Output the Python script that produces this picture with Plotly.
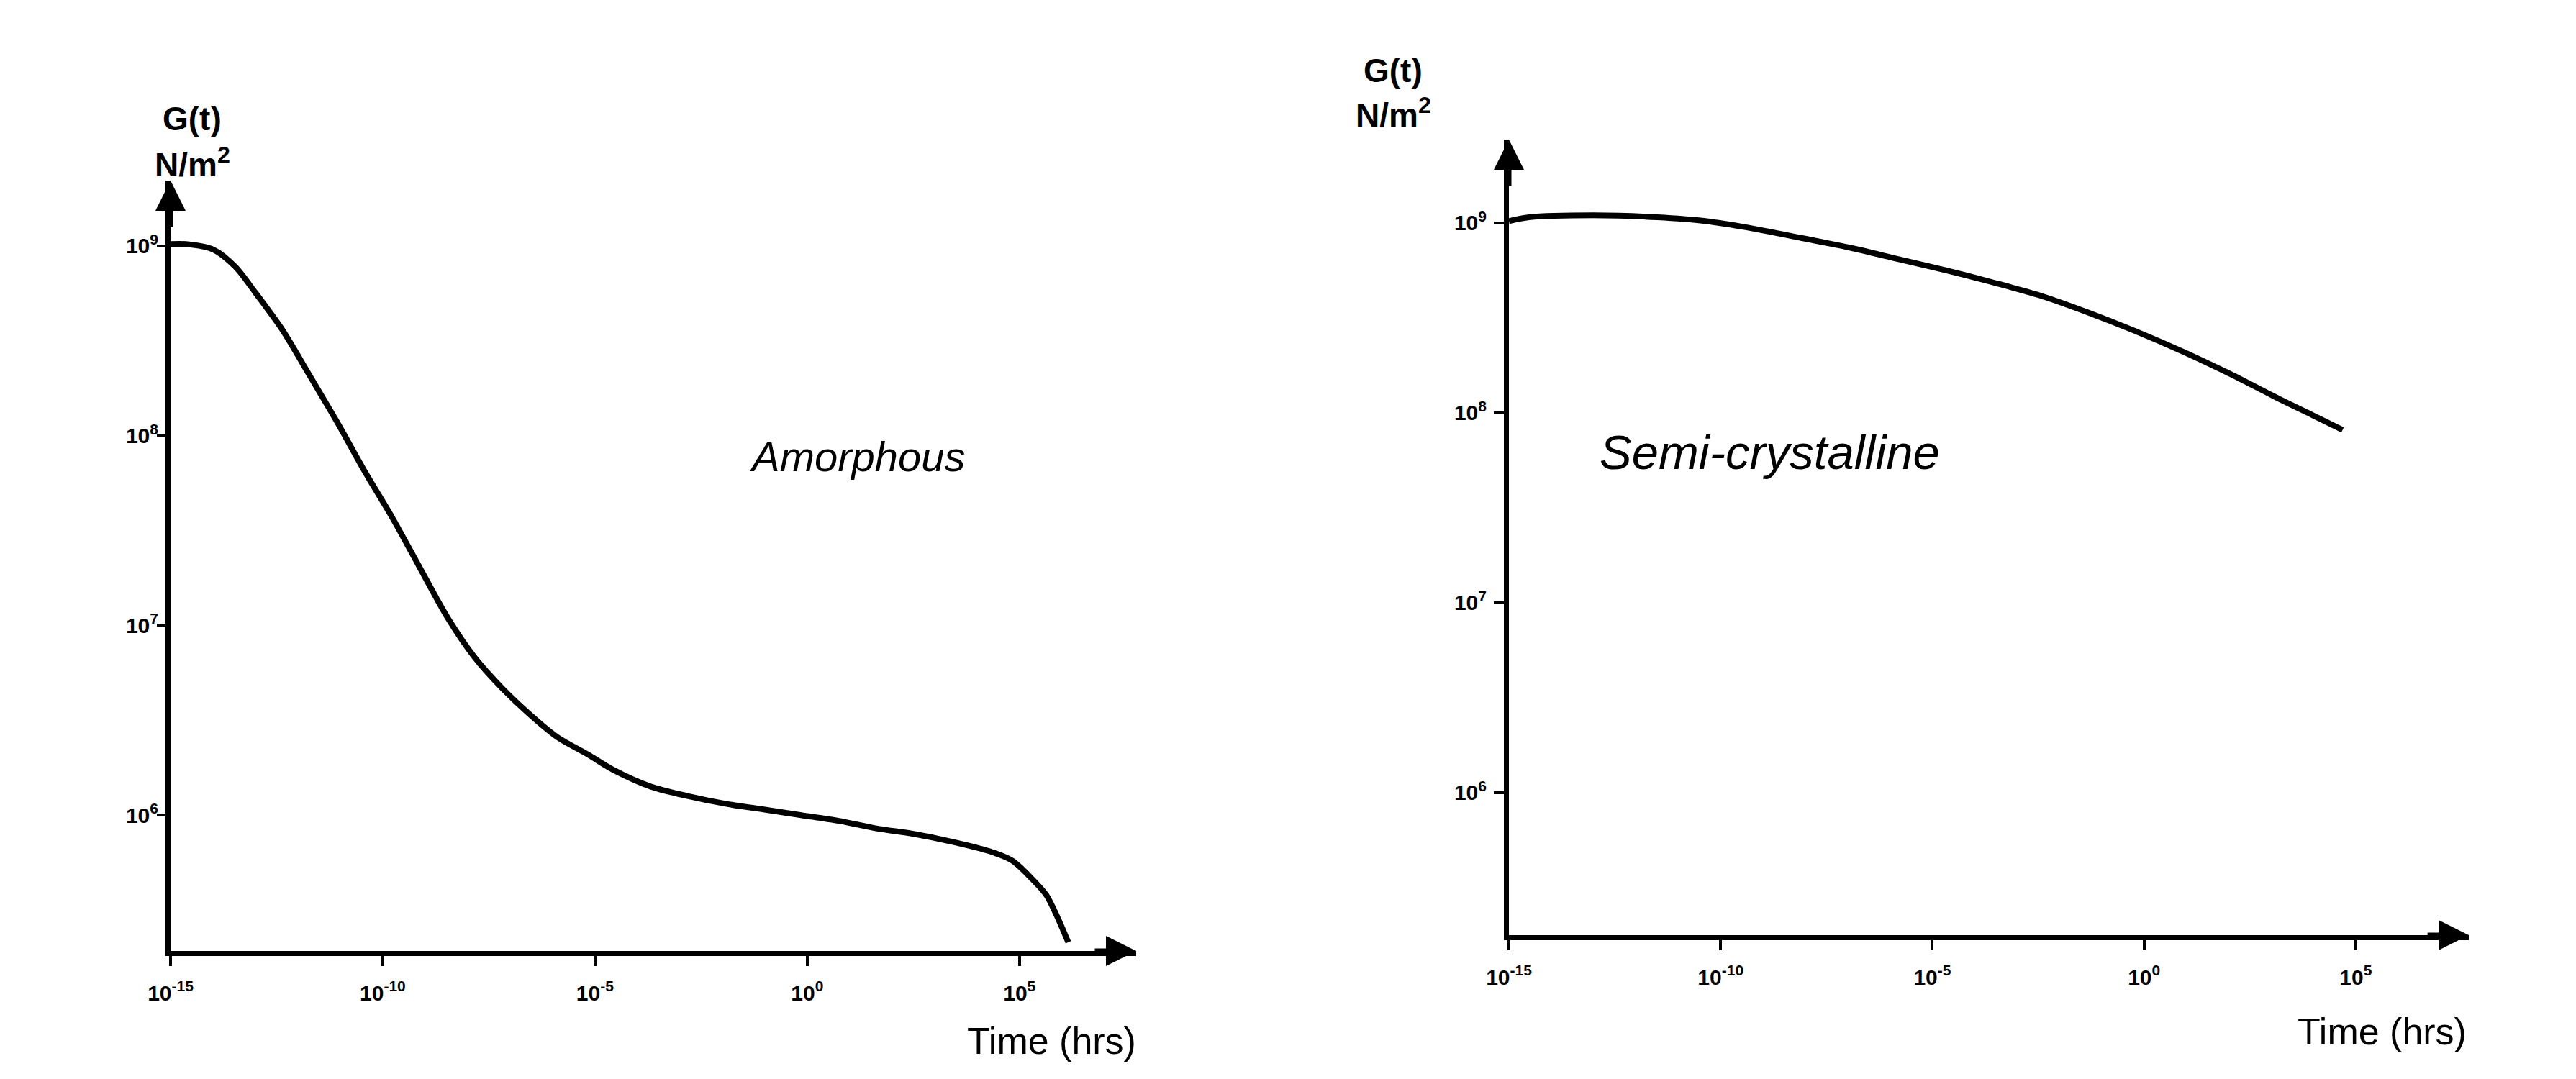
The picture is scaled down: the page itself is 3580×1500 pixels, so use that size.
import plotly.graph_objects as go

# ---- data (log10 values) ----
amorphous_log_time = [-15.0, -14.64, -13.98, -13.47, -13.02, -12.37, -11.73, -11.07, -10.42, -9.78,
                      -9.14, -8.47, -7.83, -7.19, -6.53, -5.88, -5.17, -4.58, -3.68, -2.80,
                      -1.92, -1.03, -0.14, 0.75, 1.63, 2.53, 3.41, 4.29, 4.83, 5.27, 5.63, 5.88, 6.15]
amorphous_log_modulus = [9.01, 9.01, 8.98, 8.89, 8.76, 8.56, 8.32, 8.07, 7.81, 7.57,
                         7.31, 7.04, 6.83, 6.67, 6.53, 6.41, 6.32, 6.24, 6.15, 6.10,
                         6.06, 6.03, 6.00, 5.97, 5.93, 5.90, 5.86, 5.81, 5.76, 5.67, 5.58, 5.47, 5.33]

semicryst_log_time = [-15.0, -14.52, -13.01, -11.50, -10.36, -9.22, -8.08, -6.95, -5.81, -4.67,
                      -3.62, -2.48, -1.34, -0.20, 0.94, 2.08, 3.22, 3.96, 4.69]
semicryst_log_modulus = [9.01, 9.03, 9.04, 9.03, 9.01, 8.97, 8.92, 8.87, 8.81, 8.75,
                         8.69, 8.62, 8.53, 8.43, 8.32, 8.20, 8.07, 7.99, 7.91]

time_tick_exponents = [-15, -10, -5, 0, 5]
modulus_tick_exponents = [6, 7, 8, 9]
panel_labels = ["Amorphous", "Semi-crystalline"]
y_title_lines = ["G(t)", "N/m<sup>2</sup>"]
x_title = "Time (hrs)"

W, H = 3580, 1500
FONT = "Liberation Sans, Arial, Helvetica, sans-serif"
OFF = 8  # page body margin

def px(x):
    return (x - OFF) / W

def py(y):
    return 1 - (y - OFF) / H

fig = go.Figure()
fig.add_trace(go.Scatter(x=[10 ** v for v in amorphous_log_time],
                         y=[10 ** v for v in amorphous_log_modulus],
                         mode="lines", line=dict(color="black", width=8, shape="spline", smoothing=0.8),
                         xaxis="x", yaxis="y", showlegend=False, cliponaxis=False))
fig.add_trace(go.Scatter(x=[10 ** v for v in semicryst_log_time],
                         y=[10 ** v for v in semicryst_log_modulus],
                         mode="lines", line=dict(color="black", width=8, shape="spline", smoothing=0.8),
                         xaxis="x2", yaxis="y2", showlegend=False, cliponaxis=False))

x_ticktext = ["10<sup>%d</sup>" % e for e in time_tick_exponents]
y_ticktext = ["10<sup>%d</sup>" % e for e in modulus_tick_exponents]
x_tickvals = [10.0 ** e for e in time_tick_exponents]
y_tickvals = [10.0 ** e for e in modulus_tick_exponents]

# panel geometry in page pixels (of the reference)
L = dict(x0=237, x1=1579, y0=1322, y1=251, xr=(-15, 7.75), yr=(5.284, 9.345))
R = dict(x0=2097, x1=3431, y0=1300, y1=194, xr=(-15, 7.67), yr=(5.25, 9.439))

tickfont = dict(family=FONT, size=30, color="black", weight="bold")
common_x = dict(type="log", showgrid=False, zeroline=False, showline=True, linecolor="black",
                linewidth=7, ticks="outside", ticklen=14, tickwidth=4, tickcolor="black",
                tickvals=x_tickvals, ticktext=x_ticktext, ticklabelstandoff=12,
                tickfont=tickfont, automargin=False)
common_y = dict(type="log", showgrid=False, zeroline=False, showline=True, linecolor="black",
                linewidth=7, ticks="outside", tickwidth=4, tickcolor="black",
                tickvals=y_tickvals, ticktext=y_ticktext,
                tickfont=tickfont, automargin=False)

fig.update_layout(
    width=W, height=H, paper_bgcolor="white", plot_bgcolor="white",
    margin=dict(l=0, r=0, t=0, b=0, autoexpand=False),
    xaxis=dict(common_x, domain=[px(L["x0"]), px(L["x1"])], range=list(L["xr"]), anchor="y"),
    yaxis=dict(common_y, domain=[py(L["y0"]), py(L["y1"])], range=list(L["yr"]), anchor="x",
               ticklen=12, ticklabelstandoff=-8),
    xaxis2=dict(common_x, domain=[px(R["x0"]), px(R["x1"])], range=list(R["xr"]), anchor="y2"),
    yaxis2=dict(common_y, domain=[py(R["y0"]), py(R["y1"])], range=list(R["yr"]), anchor="x2",
                ticklen=14, ticklabelstandoff=4),
)

ann = []
# axis arrowheads
for xa, ya, P in (("x", "y", L), ("x2", "y2", R)):
    ann.append(dict(x=P["xr"][0], y=P["yr"][1], ax=P["xr"][0], ay=P["yr"][1] - 0.25,
                    xref=xa, yref=ya, axref=xa, ayref=ya, showarrow=True, arrowhead=2,
                    arrowsize=1.2, arrowwidth=7, arrowcolor="black", text=""))
    ann.append(dict(x=P["xr"][1], y=P["yr"][0], ax=P["xr"][1] - 1.0, ay=P["yr"][0],
                    xref=xa, yref=ya, axref=xa, ayref=ya, showarrow=True, arrowhead=2,
                    arrowsize=1.2, arrowwidth=7, arrowcolor="black", text=""))

# y titles
for cx, y1, y2 in ((267, 165, 226), (1936, 98, 157)):
    ann.append(dict(x=px(cx), y=py(y1), xref="paper", yref="paper", text="<b>%s</b>" % y_title_lines[0],
                    showarrow=False, xanchor="center", yanchor="middle",
                    font=dict(family=FONT, size=46, color="black")))
    ann.append(dict(x=px(cx), y=py(y2), xref="paper", yref="paper", text="<b>%s</b>" % y_title_lines[1],
                    showarrow=False, xanchor="center", yanchor="middle",
                    font=dict(family=FONT, size=46, color="black")))

# x titles
for cx, cy in ((1461, 1447), (3310, 1434)):
    ann.append(dict(x=px(cx), y=py(cy), xref="paper", yref="paper", text=x_title,
                    showarrow=False, xanchor="center", yanchor="middle",
                    font=dict(family=FONT, size=52, color="black")))

# panel labels
for (cx, cy, sz), label in zip(((1192, 635, 58), (2459, 628, 67)), panel_labels):
    ann.append(dict(x=px(cx), y=py(cy), xref="paper", yref="paper",
                    text="<i>%s</i>" % label, showarrow=False, xanchor="center",
                    yanchor="middle", font=dict(family=FONT, size=sz, color="black")))

fig.update_layout(annotations=ann)
fig.write_html("out.html")
